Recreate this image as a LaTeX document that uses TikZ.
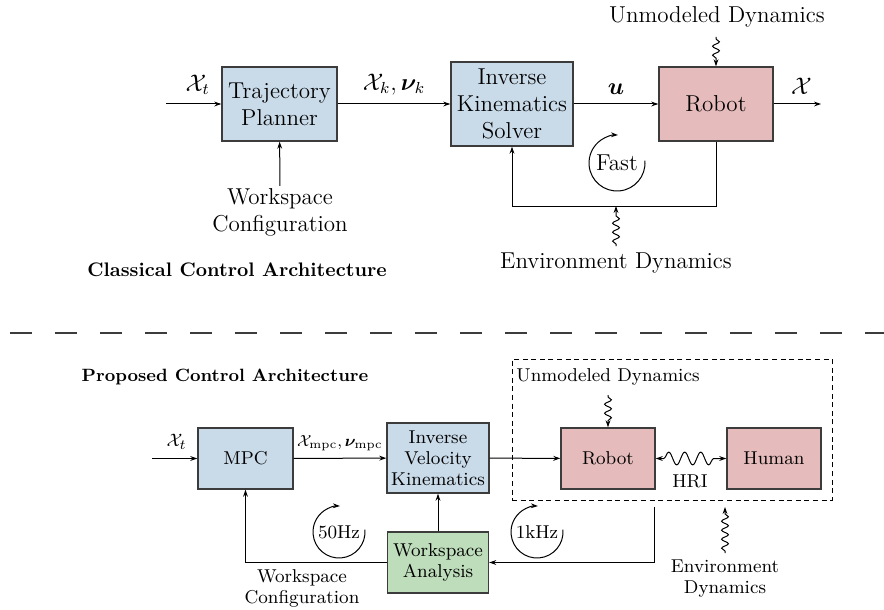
\documentclass[tikz,border=0pt]{standalone}
\usepackage{amsmath,bm}
\usetikzlibrary{arrows.meta,decorations.pathmorphing,calc}
\definecolor{bfill}{RGB}{201,218,233}
\definecolor{pfill}{RGB}{230,187,187}
\definecolor{gfill}{RGB}{190,221,186}
\definecolor{edge}{RGB}{60,60,60}
\tikzset{
  arr/.style={-{Stealth[length=3.5pt,width=2.4pt]}, line width=0.5pt},
  blk/.style={draw=edge, line width=0.7pt, align=center, inner sep=1pt},
  topf/.style={font=\fontsize{11.5}{13.5}\selectfont},
  botf/.style={font=\fontsize{9.3}{10.5}\selectfont},
  wig/.style={decorate, decoration={snake, amplitude=1.7pt, segment length=4.5pt, pre length=1pt, post length=3pt}},
  wiggle/.style={arr, wig},
  plain/.style={align=center, inner sep=1pt},
  dashbox/.style={draw, dash pattern=on 2.5pt off 1.8pt, line width=0.5pt},
  sep/.style={draw=edge, line width=0.6pt, dash pattern=on 11pt off 11.5pt}
}
\begin{document}
\begin{tikzpicture}[x=0.5pt,y=-0.5pt]
\useasboundingbox (0,0) rectangle (884,610);

% ---------------- Classical ----------------
\begin{scope}[topf]
\node[blk, fill=bfill, minimum width=57.5pt, minimum height=37pt] (tp) at (279.5,104) {Trajectory\\Planner};
\node[blk, fill=bfill, minimum width=61pt, minimum height=42pt] (iks) at (512,104) {Inverse\\Kinematics\\Solver};
\node[blk, fill=pfill, minimum width=57pt, minimum height=37pt] (rob) at (716,104) {Robot};

\coordinate (xin) at (166,104);
\coordinate (xout) at (821,104);
\draw[arr] (xin) -- node[above=1pt, xshift=2pt] {$\mathcal{X}_t$} (tp);
\draw[arr] (tp) -- node[above=1pt] {$\mathcal{X}_k, \bm{\nu}_k$} (iks);
\draw[arr] (iks) -- node[above=1pt] {$\bm{u}$} (rob);
\draw[arr] (rob) -- node[above=1pt, xshift=2pt] {$\mathcal{X}$} (xout);

\node[plain] (wc) at (280,212) {Workspace\\Configuration};
\draw[arr] (wc) -- (tp);

\node[plain] (ud) at (717,17) {Unmodeled Dynamics};
\coordinate (udt) at (716,37);
\draw[wiggle] (udt) -- (rob.north);

\coordinate (fb) at (716,206);
\draw[arr] (rob.south) -- (fb) -| (iks.south);

\node[plain] (ed) at (616,263) {Environment Dynamics};
\coordinate (edb) at (616,246);
\coordinate (edt) at (616,206);
\draw[wiggle] (edb) -- (edt);

\coordinate (fastc) at (617,163);
\node[plain] (fast) at (fastc) {Fast};
\draw[arr] (fastc) ++(5:14pt) arc[start angle=5, end angle=-272, radius=14pt];
\end{scope}

\node[font=\fontsize{9.8}{12}\selectfont\bfseries] (cl) at (237,270) {Classical Control Architecture};

\coordinate (sepl) at (10,333);
\coordinate (sepr) at (884,333);
\draw[sep] (sepl) -- (sepr);

% ---------------- Proposed ----------------
\node[font=\fontsize{8.9}{11}\selectfont\bfseries] (pr) at (225,377) {Proposed Control Architecture};

\begin{scope}[botf]
\node[dashbox, minimum width=160pt, minimum height=70.5pt] (sys) at (672,429.5) {};
\node[blk, fill=bfill, minimum width=47.5pt, minimum height=30.5pt] (mpc) at (245.5,458.5) {MPC};
\node[blk, fill=bfill, minimum width=51pt, minimum height=35pt] (ivk) at (438,458) {Inverse\\Velocity\\Kinematics};
\node[blk, fill=gfill, minimum width=50.5pt, minimum height=30.5pt] (wa) at (438,562.5) {Workspace\\Analysis};
\node[blk, fill=pfill, minimum width=47pt, minimum height=30.5pt] (rob2) at (608,458.5) {Robot};
\node[blk, fill=pfill, minimum width=47pt, minimum height=30.5pt] (hum) at (774,458.5) {Human};

\coordinate (xin2) at (152,458.5);
\draw[arr] (xin2) -- node[above=1pt, xshift=1pt] {$\mathcal{X}_t$} (mpc);
\draw[arr] (mpc) -- node[above=0pt, font=\fontsize{8.4}{10}\selectfont] {$\mathcal{X}_{\mathrm{mpc}}, \bm{\nu}_{\mathrm{mpc}}$} (ivk);
\draw[arr] (ivk) -- (rob2);
\draw[arr] (wa) -- (ivk);
\draw[arr] (wa.west) -| (mpc.south);
\node[plain] (wc2) at (302,588) {Workspace\\Configuration};

\node[plain] (ud2) at (608,377) {Unmodeled Dynamics};
\coordinate (ud2t) at (608,395);
\draw[wiggle] (ud2t) -- (rob2.north);

\draw[{Stealth[length=3.5pt,width=2.4pt]}-{Stealth[length=3.5pt,width=2.4pt]}, line width=0.5pt, decorate,
  decoration={snake, amplitude=3.2pt, segment length=8pt, pre length=4pt, post length=4pt}] (rob2) -- (hum);
\node[plain] (hri) at (690,481) {HRI};

\coordinate (fbs) at (654,507);
\draw[arr] (fbs) |- (wa.east);

\coordinate (ed2b) at (725,553);
\coordinate (ed2t) at (725,507);
\draw[wiggle] (ed2b) -- (ed2t);
\node[plain] (ed2) at (725,579) {Environment\\Dynamics};

\coordinate (c50) at (339,532);
\node[plain] (f50) at (c50) {50Hz};
\draw[arr] (c50) ++(5:13pt) arc[start angle=5, end angle=-272, radius=13pt];

\coordinate (c1k) at (537,532);
\node[plain] (f1k) at (c1k) {1kHz};
\draw[arr] (c1k) ++(5:13pt) arc[start angle=5, end angle=-272, radius=13pt];
\end{scope}
\end{tikzpicture}
\end{document}
